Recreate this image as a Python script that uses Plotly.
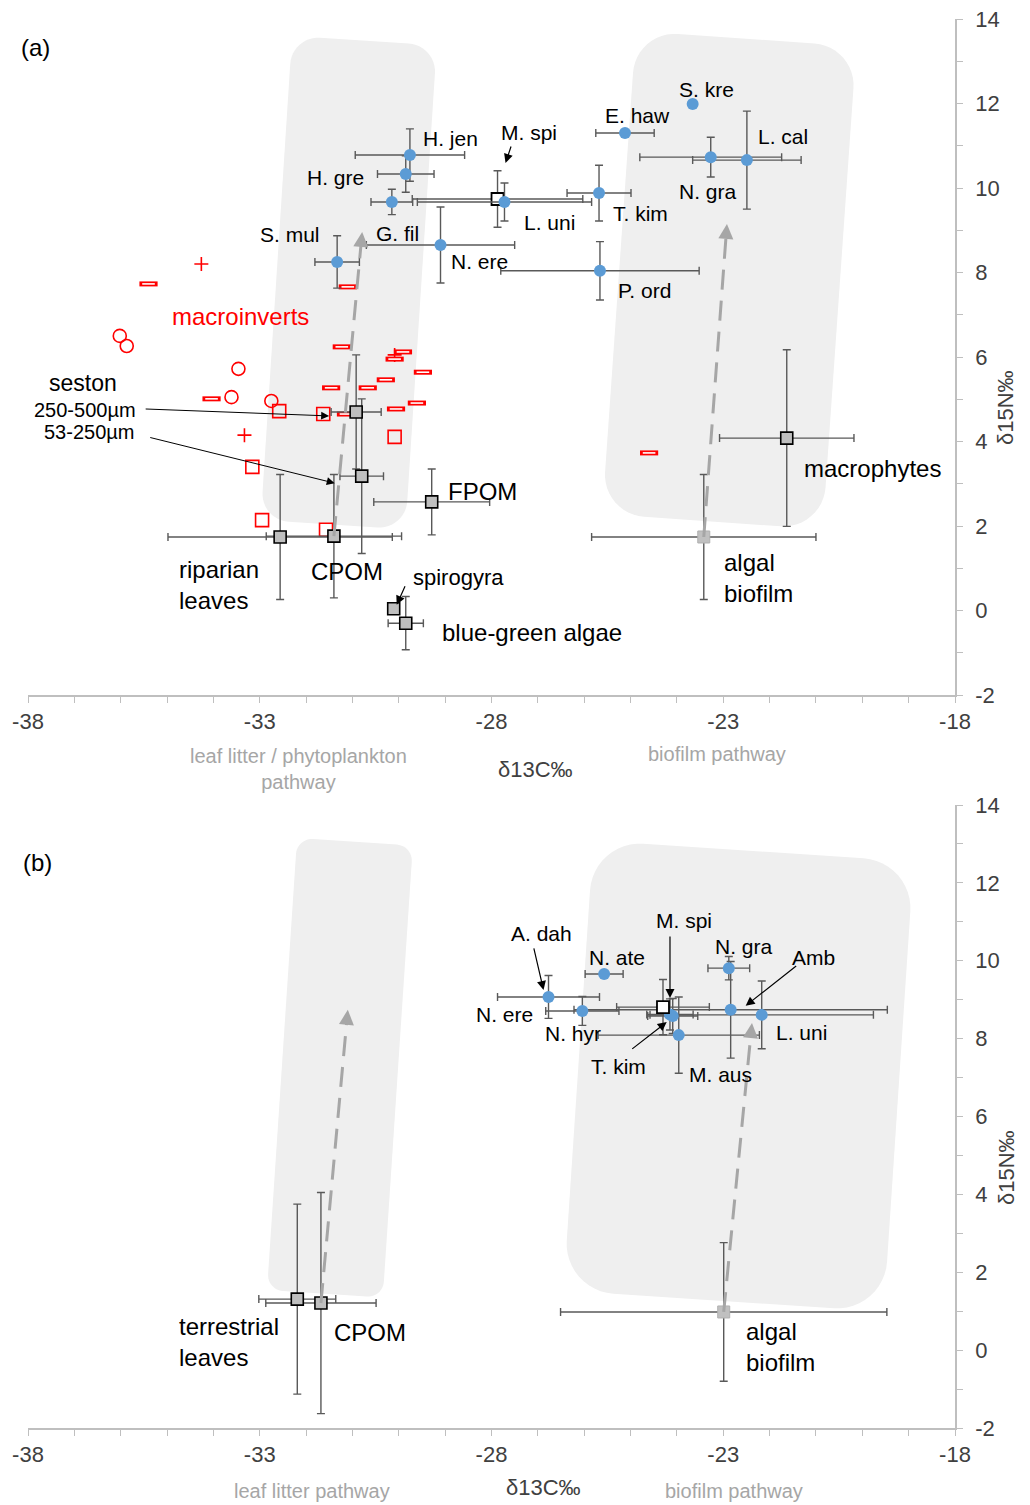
import math
import plotly.graph_objects as go

# ======================= DATA =======================
# ---- Panel (a): consumers (blue) ----
a_taxa = ["H. jen", "H. gre", "G. fil", "S. mul", "N. ere", "L. uni",
          "T. kim", "E. haw", "S. kre", "N. gra", "L. cal", "P. ord"]
a_taxa_c = [-29.76, -29.85, -30.15, -31.33, -29.10, -27.72,
            -25.68, -25.12, -23.66, -23.27, -22.49, -25.66]
a_taxa_n = [10.78, 10.33, 9.67, 8.25, 8.65, 9.67,
            9.88, 11.30, 11.99, 10.73, 10.66, 8.04]
a_taxa_c_sd = [1.18, 0.61, 0.45, 0.48, 1.60, 1.88, 0.69, 0.63, 0.0, 1.53, 1.17, 2.14]
a_taxa_n_sd = [0.62, 0.43, 0.30, 0.62, 0.90, 0.45, 0.66, 0.0, 0.0, 0.47, 1.16, 0.69]

a_mspi_name = ["M. spi"]
a_mspi_c = [-27.87]
a_mspi_n = [9.74]
a_mspi_c_sd = [1.84]
a_mspi_n_sd = [0.67]

# ---- Panel (a): food sources (grey squares) ----
a_src = ["seston 250-500µm", "seston 53-250µm", "FPOM", "riparian leaves", "CPOM",
         "spirogyra", "blue-green algae", "macrophytes"]
a_src_c = [-30.92, -30.80, -29.29, -32.56, -31.40, -30.11, -29.85, -21.63]
a_src_n = [4.70, 3.18, 2.57, 1.74, 1.76, 0.04, -0.30, 4.08]
a_src_c_sd = [0.54, 0.47, 1.25, 2.42, 1.46, 0.0, 0.38, 1.45]
a_src_n_sd = [1.35, 1.83, 0.78, 1.48, 1.46, 0.0, 0.63, 2.09]

a_biofilm_c = [-23.42]
a_biofilm_n = [1.74]
a_biofilm_c_sd = [2.42]
a_biofilm_n_sd = [1.48]

# ---- Panel (a): individual macroinvertebrates (red open symbols) ----
mi_plus_c = [-34.26, -33.33, -30.09]
mi_plus_n = [8.20, 4.15, 6.05]
mi_dash_c = [-35.40, -31.10, -31.23, -29.91, -30.09, -29.48, -30.28, -31.46,
             -30.67, -34.04, -29.61, -30.06, -31.14, -24.60]
mi_dash_n = [7.73, 7.66, 6.24, 6.12, 5.95, 5.64, 5.46, 5.27,
             5.27, 5.01, 4.91, 4.77, 4.65, 3.73]
mi_circ_c = [-36.02, -35.87, -33.46, -33.61, -32.75]
mi_circ_n = [6.50, 6.26, 5.72, 5.05, 4.96]
mi_sq_c = [-32.58, -31.63, -30.09, -33.16, -32.95, -31.57]
mi_sq_n = [4.72, 4.65, 4.11, 3.40, 2.14, 1.91]

# pathway arrow tips (panel a: leaf litter, biofilm)
a_path_tip_c = [-30.79, -22.92]
a_path_tip_n = [8.96, 9.15]

# ---- Panel (b): consumers ----
b_taxa = ["A. dah", "N. ate", "N. ere", "T. kim", "N. hyr", "M. aus", "N. gra", "Amb", "L. uni"]
b_taxa_c = [-26.77, -25.57, -26.04, -24.09, -24.15, -23.96, -22.88, -22.84, -22.17]
b_taxa_n = [9.07, 9.66, 8.71, 8.58, 8.62, 8.09, 9.81, 8.74, 8.61]
b_taxa_c_sd = [1.10, 0.41, 0.79, 0.54, 0.50, 1.74, 0.45, 3.38, 2.41]
b_taxa_n_sd = [0.55, 0.0, 0.37, 0.45, 0.40, 0.98, 0.30, 1.24, 0.87]

b_mspi_name = ["M. spi"]
b_mspi_c = [-24.30]
b_mspi_n = [8.81]
b_mspi_c_sd = [1.00]
b_mspi_n_sd = [0.71]

b_src = ["terrestrial leaves", "CPOM"]
b_src_c = [-32.19, -31.68]
b_src_n = [1.31, 1.21]
b_src_c_sd = [0.83, 1.19]
b_src_n_sd = [2.44, 2.84]

b_biofilm_c = [-22.99]
b_biofilm_n = [0.98]
b_biofilm_c_sd = [3.52]
b_biofilm_n_sd = [1.78]

b_path_tip_c = [-31.10, -22.38]
b_path_tip_n = [8.74, 8.40]

# axis ticks
x_tick_vals = list(range(-38, -17))
x_tick_text = [str(v) if (v + 38) % 5 == 0 else "" for v in x_tick_vals]
y_tick_vals = list(range(-2, 15))
y_tick_text = [str(v) if v % 2 == 0 else "" for v in y_tick_vals]

# ======================= LAYOUT CONSTANTS =======================
# target positions are given in page pixels; the page body has an 8px margin
OFF = 8
W, H = 1030 - OFF, 1505 - OFF
XL, XR = 28, 955
A_TOP, A_BOT = 19, 695
B_TOP, B_BOT = 805, 1428
XMIN, XMAX, YMIN, YMAX = -38, -18, -2, 14
SX = (XR - XL) / (XMAX - XMIN)
SY = {"a": (A_BOT - A_TOP) / (YMAX - YMIN), "b": (B_BOT - B_TOP) / (YMAX - YMIN)}
REF = {"a": ("x", "y"), "b": ("x2", "y2")}

FONT = "Liberation Sans, Arial, Helvetica, sans-serif"
ERRC = "#595959"
BLUE = "#5b9bd5"
RED = "#ff0000"
BOXC = "#efefef"
PATHC = "#a6a6a6"
AXC = "#bfbfbf"
TICKC = "#404040"


def fx(px):
    return (px - OFF) / W


def fy(py):
    return 1 - (py - OFF) / H


fig = go.Figure()
shapes = []
annotations = []


def err(arr):
    return dict(type="data", array=arr, color=ERRC, thickness=1.4, width=4)


def pts(panel, x, y, xe, ye, symbol, size, fill, lc, lw):
    xr, yr = REF[panel]
    fig.add_trace(go.Scatter(
        x=x, y=y, mode="markers", xaxis=xr, yaxis=yr,
        marker=dict(symbol=symbol, size=size, color=fill, line=dict(color=lc, width=lw)),
        error_x=err(xe) if xe is not None else None,
        error_y=err(ye) if ye is not None else None,
        showlegend=False, hoverinfo="skip", cliponaxis=False))


def label(panel, text, x, y, dx, dy, size=21, color="black", xanchor="center", align="center"):
    xr, yr = REF[panel]
    annotations.append(dict(text=text, x=x, y=y, xref=xr, yref=yr, xshift=dx, yshift=-dy,
                            showarrow=False, xanchor=xanchor, yanchor="middle", align=align,
                            font=dict(family=FONT, size=size, color=color)))


def arrow(panel, x, y, tipdx, tipdy, taildx, taildy, color="black", width=1.2, size=1.5):
    xr, yr = REF[panel]
    annotations.append(dict(text="", x=x, y=y, xref=xr, yref=yr, xshift=tipdx, yshift=-tipdy,
                            showarrow=True, ax=taildx, ay=taildy, axref="pixel", ayref="pixel",
                            arrowhead=2, arrowsize=size, arrowwidth=width, arrowcolor=color,
                            standoff=0))


def paper_text(text, px, py, size=21, color="black", angle=0):
    annotations.append(dict(text=text, x=fx(px), y=fy(py), xref="paper", yref="paper",
                            showarrow=False, xanchor="center", yanchor="middle", textangle=angle,
                            font=dict(family=FONT, size=size, color=color)))


def rounded_box(panel, cx, cy, w, h, r, ang, n=12):
    sx, sy = SX, SY[panel]
    th = math.radians(ang)
    cs = [((w / 2 - r), -(h / 2 - r), -90), ((w / 2 - r), (h / 2 - r), 0),
          (-(w / 2 - r), (h / 2 - r), 90), (-(w / 2 - r), -(h / 2 - r), 180)]
    path = []
    for (ux, uy, a0) in cs:
        for k in range(n + 1):
            ph = math.radians(a0 + 90 * k / n)
            u = ux + r * math.cos(ph)
            v = uy + r * math.sin(ph)
            px = u * math.cos(th) - v * math.sin(th)
            py = u * math.sin(th) + v * math.cos(th)
            path.append((cx + px / sx, cy - py / sy))
    d = "M " + " L ".join("%.4f,%.4f" % p for p in path) + " Z"
    xr, yr = REF[panel]
    shapes.append(dict(type="path", path=d, xref=xr, yref=yr, fillcolor=BOXC,
                       line=dict(width=0), layer="below"))


def pathway(panel, x0, y0, x1, y1):
    sx, sy = SX, SY[panel]
    dxp = (x1 - x0) * sx
    dyp = -(y1 - y0) * sy
    L = math.hypot(dxp, dyp)
    ux, uy = dxp / L, dyp / L
    back = 12
    xe = x1 - ux * back / sx
    ye = y1 + uy * back / sy
    xr, yr = REF[panel]
    shapes.append(dict(type="line", x0=x0, y0=y0, x1=xe, y1=ye, xref=xr, yref=yr,
                       line=dict(color=PATHC, width=3, dash="20px,11px"), layer="above"))
    annotations.append(dict(text="", x=x1, y=y1, xref=xr, yref=yr, showarrow=True,
                            ax=-ux * 14, ay=-uy * 14, arrowhead=2, arrowsize=1.0,
                            arrowwidth=3, arrowcolor=PATHC, standoff=0))


# ======================= BACKGROUND BOXES =======================
rounded_box("a", -31.08, 7.76, 145, 485, 28, 3.7)
rounded_box("a", -22.87, 7.82, 221, 484, 42, 4.0)
rounded_box("b", -31.27, 7.25, 116, 453, 16, 3.8)
rounded_box("b", -22.67, 7.04, 321, 451, 50, 3.8)

# ======================= PANEL (a) =======================
pts("a", mi_plus_c, mi_plus_n, None, None, "cross-thin-open", 10, RED, RED, 1.6)
pts("a", mi_dash_c, mi_dash_n, None, None, "line-ew", 13, RED, RED, 5)
pts("a", mi_dash_c, mi_dash_n, None, None, "line-ew", 9, "white", "white", 1.6)
pts("a", mi_circ_c, mi_circ_n, None, None, "circle-open", 13, RED, RED, 1.6)
pts("a", mi_sq_c, mi_sq_n, None, None, "square-open", 13, RED, RED, 1.6)

i_cpom_a = a_src.index("CPOM")
pathway("a", a_src_c[i_cpom_a], a_src_n[i_cpom_a], a_path_tip_c[0], a_path_tip_n[0])
pathway("a", a_biofilm_c[0], a_biofilm_n[0], a_path_tip_c[1], a_path_tip_n[1])

pts("a", a_biofilm_c, a_biofilm_n, a_biofilm_c_sd, a_biofilm_n_sd, "square", 12, "#c0c0c0", "#b0b0b0", 1)
pts("a", a_src_c, a_src_n, a_src_c_sd, a_src_n_sd, "square", 12, "#bfbfbf", "black", 1.6)
pts("a", a_mspi_c, a_mspi_n, a_mspi_c_sd, a_mspi_n_sd, "square", 12, "white", "black", 1.8)
pts("a", a_taxa_c, a_taxa_n, a_taxa_c_sd, a_taxa_n_sd, "circle", 12, BLUE, BLUE, 0)

LBL_A = {"H. jen": (41, -17), "H. gre": (-70, 3), "G. fil": (6, 32), "S. mul": (-47, -27),
         "N. ere": (39, 16), "L. uni": (45, 21), "T. kim": (41, 20), "E. haw": (13, -18),
         "S. kre": (14, -14), "N. gra": (-3, 34), "L. cal": (36, -24), "P. ord": (45, 20)}
for nm, c, n in zip(a_taxa, a_taxa_c, a_taxa_n):
    dx, dy = LBL_A[nm]
    label("a", nm, c, n, dx, dy)
label("a", a_mspi_name[0], a_mspi_c[0], a_mspi_n[0], 31, -66)
arrow("a", a_mspi_c[0], a_mspi_n[0], 8, -36, 6, -18)

src = {nm: (c, n) for nm, c, n in zip(a_src, a_src_c, a_src_n)}
c, n = src["seston 250-500µm"]
label("a", "seston", c, n, -273, -29, size=23)
label("a", "250-500µm", c, n, -271, -2, size=20)
arrow("a", c, n, -27, 4, -185, -7, width=1.0, size=1.6)
c, n = src["seston 53-250µm"]
label("a", "53-250µm", c, n, -273, -44, size=20)
arrow("a", c, n, -27, 7, -186, -46, width=1.0, size=1.6)
c, n = src["FPOM"]
label("a", "FPOM", c, n, 51, -10, size=24)
c, n = src["riparian leaves"]
label("a", "riparian<br>leaves", c, n, -103, 48, size=24, xanchor="left", align="left")
c, n = src["CPOM"]
label("a", "CPOM", c, n, 13, 35, size=24)
c, n = src["spirogyra"]
label("a", "spirogyra", c, n, 65, -31, size=22)
arrow("a", c, n, 3, -4, 9, -20)
c, n = src["blue-green algae"]
label("a", "blue-green algae", c, n, 126, 9, size=24)
c, n = src["macrophytes"]
label("a", "macrophytes", c, n, 86, 30, size=24)
label("a", "algal<br>biofilm", a_biofilm_c[0], a_biofilm_n[0], 18, 41, size=24,
      xanchor="left", align="left")

paper_text("macroinverts", 240, 316, size=24, color=RED)
paper_text("(a)", 35, 47, size=24)
paper_text("δ13C‰", 535, 770, size=22, color=TICKC)
paper_text("δ15N‰", 1006, 408, size=22, color=TICKC, angle=-90)
paper_text("leaf litter / phytoplankton<br>pathway", 298, 769, size=20, color=PATHC)
paper_text("biofilm pathway", 717, 754, size=20, color=PATHC)

# ======================= PANEL (b) =======================
i_cpom_b = b_src.index("CPOM")
pathway("b", b_src_c[i_cpom_b], b_src_n[i_cpom_b], b_path_tip_c[0], b_path_tip_n[0])
pathway("b", b_biofilm_c[0], b_biofilm_n[0], b_path_tip_c[1], b_path_tip_n[1])

pts("b", b_biofilm_c, b_biofilm_n, b_biofilm_c_sd, b_biofilm_n_sd, "square", 12, "#c0c0c0", "#b0b0b0", 1)
pts("b", b_src_c, b_src_n, b_src_c_sd, b_src_n_sd, "square", 12, "#bfbfbf", "black", 1.6)
pts("b", b_taxa_c, b_taxa_n, b_taxa_c_sd, b_taxa_n_sd, "circle", 12, BLUE, BLUE, 0)
pts("b", b_mspi_c, b_mspi_n, b_mspi_c_sd, b_mspi_n_sd, "square", 12, "white", "black", 1.8)

LBL_B = {"A. dah": (-7, -63), "N. ate": (13, -16), "N. ere": (-78, 4), "N. hyr": (-97, 19),
         "T. kim": (-54, 50), "M. aus": (42, 39), "N. gra": (15, -22), "Amb": (83, -52),
         "L. uni": (40, 18)}
for nm, c, n in zip(b_taxa, b_taxa_c, b_taxa_n):
    dx, dy = LBL_B[nm]
    label("b", nm, c, n, dx, dy)
tb = {nm: (c, n) for nm, c, n in zip(b_taxa, b_taxa_c, b_taxa_n)}
arrow("b", *tb["A. dah"], -5, -7, -10, -43)
arrow("b", *tb["T. kim"], -6, 6, -36, 28)
arrow("b", *tb["Amb"], 15, -4, 52, -41)
label("b", b_mspi_name[0], b_mspi_c[0], b_mspi_n[0], 21, -87)
arrow("b", b_mspi_c[0], b_mspi_n[0], 7, -9, 0, -63)

label("b", "terrestrial<br>leaves", b_src_c[0], b_src_n[0], -120, 43, size=24,
      xanchor="left", align="left")
label("b", "CPOM", b_src_c[1], b_src_n[1], 49, 29, size=24)
label("b", "algal<br>biofilm", b_biofilm_c[0], b_biofilm_n[0], 20, 35, size=24,
      xanchor="left", align="left")

paper_text("(b)", 37, 862, size=24)
paper_text("δ13C‰", 543, 1487, size=22, color=TICKC)
paper_text("δ15N‰", 1006, 1168, size=22, color=TICKC, angle=-90)
paper_text("leaf litter pathway", 312, 1491, size=20, color=PATHC)
paper_text("biofilm pathway", 734, 1491, size=20, color=PATHC)


# ======================= AXES =======================
def xaxis_cfg(anchor):
    return dict(domain=[fx(XL), fx(XR)], range=[XMIN, XMAX], anchor=anchor,
                showline=True, linecolor=AXC, linewidth=1.5,
                ticks="outside", ticklen=6, tickwidth=1.2, tickcolor=AXC,
                tickmode="array", tickvals=x_tick_vals, ticktext=x_tick_text,
                tickfont=dict(family=FONT, size=22, color=TICKC), ticklabeloverflow="allow",
                showgrid=False, zeroline=False, fixedrange=True, automargin=False)


def yaxis_cfg(anchor, top, bot):
    return dict(domain=[fy(bot), fy(top)], range=[YMIN, YMAX], anchor=anchor,
                side="right", showline=True, linecolor=AXC, linewidth=1.5,
                ticks="outside", ticklen=6, tickwidth=1.2, tickcolor=AXC,
                tickmode="array", tickvals=y_tick_vals, ticktext=y_tick_text,
                tickfont=dict(family=FONT, size=22, color=TICKC), ticklabelstandoff=8,
                ticklabeloverflow="allow",
                showgrid=False, zeroline=False, fixedrange=True, automargin=False)


fig.update_layout(
    width=W, height=H, autosize=False,
    margin=dict(l=0, r=0, t=0, b=0, pad=0, autoexpand=False),
    paper_bgcolor="white", plot_bgcolor="white", showlegend=False,
    xaxis=xaxis_cfg("y"), yaxis=yaxis_cfg("x", A_TOP, A_BOT),
    xaxis2=xaxis_cfg("y2"), yaxis2=yaxis_cfg("x2", B_TOP, B_BOT),
    shapes=shapes, annotations=annotations,
    font=dict(family=FONT),
)

fig.write_html("out.html", include_plotlyjs=True, full_html=True,
               config={"responsive": False, "displayModeBar": False})
